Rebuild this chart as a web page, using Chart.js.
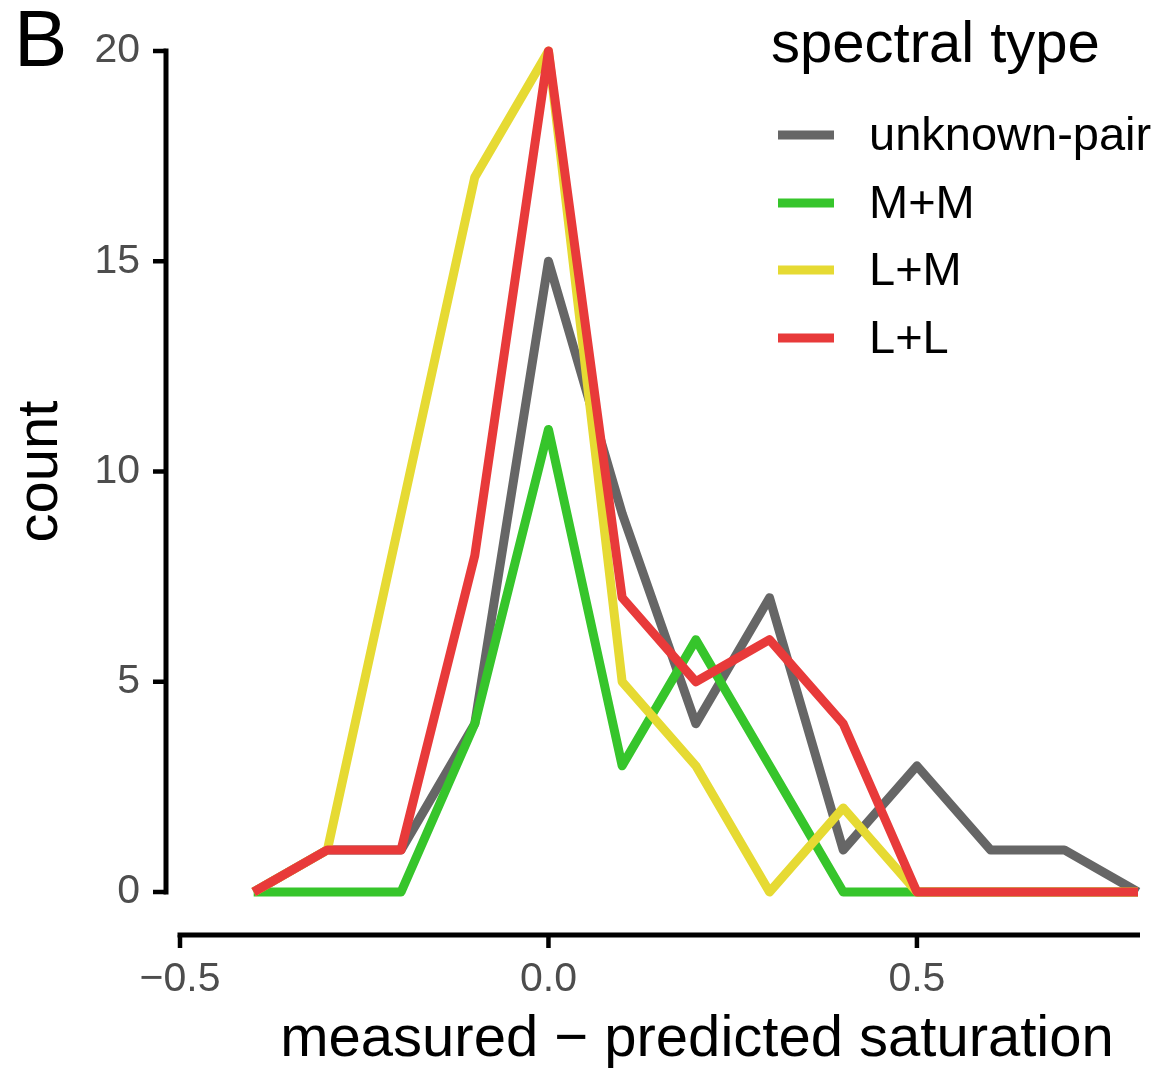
<!DOCTYPE html>
<html>
<head>
<meta charset="utf-8">
<script src="https://cdn.jsdelivr.net/npm/chart.js@4"></script>
<style>
  html, body { margin: 0; padding: 0; background: #ffffff; }
  canvas { display: block; }
</style>
</head>
<body>
<canvas id="c" width="1170" height="1075"></canvas>
<script>
// ---- data ----
const binCenters = [-0.4, -0.3, -0.2, -0.1, 0.0, 0.1, 0.2, 0.3, 0.4, 0.5, 0.6, 0.7, 0.8];
const unknownPair = [0, 1, 1, 4, 15, 9, 4, 7, 1, 3, 1, 1, 0];
const mPlusM      = [0, 0, 0, 4, 11, 3, 6, 3, 0, 0, 0, 0, 0];
const lPlusM      = [0, 1, 9, 17, 20, 5, 3, 0, 2, 0, 0, 0, 0];
const lPlusL      = [0, 1, 1, 8, 20, 7, 5, 6, 4, 0, 0, 0, 0];
const seriesNames = ['unknown-pair', 'M+M', 'L+M', 'L+L'];
const seriesColors = ['#666666', '#36c52b', '#e6da33', '#e83a3a'];
const xTickValues = [-0.5, 0.0, 0.5];
const yTickValues = [0, 5, 10, 15, 20];
const legendTitle = 'spectral type';
const xTitle = 'measured \u2212 predicted saturation';
const yTitle = 'count';
const panelTag = 'B';

const FONT = '"Liberation Sans", Arial, Helvetica, sans-serif';
const allSeries = [unknownPair, mPlusM, lPlusM, lPlusL];

const datasets = allSeries.map((vals, i) => ({
  label: seriesNames[i],
  data: binCenters.map((x, j) => ({ x: x, y: vals[j] })),
  borderColor: seriesColors[i],
  backgroundColor: seriesColors[i],
  borderWidth: 9,
  pointRadius: 0,
  tension: 0,
  fill: false,
  clip: false,
  borderJoinStyle: 'round',
  borderCapStyle: 'butt',
  order: allSeries.length - i
}));

const decorations = {
  id: 'decorations',
  afterDraw(chart) {
    const ctx = chart.ctx;
    const xs = chart.scales.x, ys = chart.scales.y;
    ctx.save();
    ctx.strokeStyle = '#000000';
    ctx.lineWidth = 5;
    ctx.lineCap = 'butt';
    // y axis line (capped 0..20)
    const yAxisX = 166;
    const yTop = ys.getPixelForValue(20), yBot = ys.getPixelForValue(0);
    ctx.beginPath();
    ctx.moveTo(yAxisX, yTop - 2.5);
    ctx.lineTo(yAxisX, yBot + 2.5);
    ctx.stroke();
    ctx.lineWidth = 4.5;
    yTickValues.forEach(v => {
      const p = ys.getPixelForValue(v);
      ctx.beginPath();
      ctx.moveTo(153, p);
      ctx.lineTo(yAxisX, p);
      ctx.stroke();
    });
    // x axis line (capped -0.5..0.8)
    const xAxisY = 935;
    const xL = xs.getPixelForValue(-0.5), xR = xs.getPixelForValue(0.8);
    ctx.lineWidth = 5;
    ctx.beginPath();
    ctx.moveTo(xL - 2.5, xAxisY);
    ctx.lineTo(xR + 2, xAxisY);
    ctx.stroke();
    ctx.lineWidth = 4.5;
    xTickValues.forEach(v => {
      const p = xs.getPixelForValue(v);
      ctx.beginPath();
      ctx.moveTo(p, xAxisY);
      ctx.lineTo(p, xAxisY + 13);
      ctx.stroke();
    });
    // panel tag
    ctx.fillStyle = '#000000';
    ctx.font = '80px ' + FONT;
    ctx.textAlign = 'left';
    ctx.textBaseline = 'alphabetic';
    ctx.fillText(panelTag, 14, 66);
    // x title
    ctx.font = '58px ' + FONT;
    ctx.textAlign = 'center';
    ctx.textBaseline = 'middle';
    ctx.fillText(xTitle, 697, 1040);
    // legend
    ctx.textAlign = 'left';
    ctx.textBaseline = 'alphabetic';
    ctx.font = '58px ' + FONT;
    ctx.fillText(legendTitle, 771, 62);
    const rowY = [135, 203, 270, 338];
    ctx.font = '47px ' + FONT;
    ctx.textBaseline = 'middle';
    seriesNames.forEach((name, i) => {
      ctx.strokeStyle = seriesColors[i];
      ctx.lineWidth = 9;
      ctx.beginPath();
      ctx.moveTo(778, rowY[i]);
      ctx.lineTo(834, rowY[i]);
      ctx.stroke();
      ctx.fillStyle = '#000000';
      ctx.fillText(name, 869, rowY[i] + 2);
    });
    ctx.restore();
  }
};

function fmtX(v) {
  const r = Math.round(v * 10) / 10;
  const s = Math.abs(r).toFixed(1);
  return r < 0 ? '\u2212' + s : s;
}

function noScalePadding(scale) {
  scale.paddingTop = 0;
  scale.paddingBottom = 0;
  scale.paddingLeft = 0;
  scale.paddingRight = 0;
}

new Chart(document.getElementById('c'), {
  type: 'line',
  data: { datasets: datasets },
  options: {
    responsive: false,
    animation: false,
    devicePixelRatio: 1,
    layout: { padding: { top: 51, right: 32, left: 0, bottom: 0 } },
    plugins: { legend: { display: false }, tooltip: { enabled: false } },
    scales: {
      x: {
        type: 'linear',
        min: -0.5,
        max: 0.8,
        afterBuildTicks(scale) {
          scale.ticks = xTickValues.map(v => ({ value: v }));
        },
        afterFit(scale) { scale.height = 183; noScalePadding(scale); },
        grid: { display: false, drawTicks: false },
        border: { display: false },
        ticks: {
          callback: v => fmtX(v),
          font: { size: 41, family: FONT },
          color: '#4d4d4d',
          padding: 63,
          maxRotation: 0,
          autoSkip: false
        }
      },
      y: {
        type: 'linear',
        min: 0,
        max: 20,
        afterBuildTicks(scale) {
          scale.ticks = yTickValues.map(v => ({ value: v }));
        },
        afterFit(scale) { scale.width = 180; noScalePadding(scale); },
        grid: { display: false, drawTicks: false },
        border: { display: false },
        ticks: {
          font: { size: 41, family: FONT },
          color: '#4d4d4d',
          padding: 40
        },
        title: {
          display: true,
          text: yTitle,
          font: { size: 58, family: FONT },
          color: '#000000',
          padding: { top: 6, bottom: 0 }
        }
      }
    }
  },
  plugins: [decorations]
});
</script>
</body>
</html>
